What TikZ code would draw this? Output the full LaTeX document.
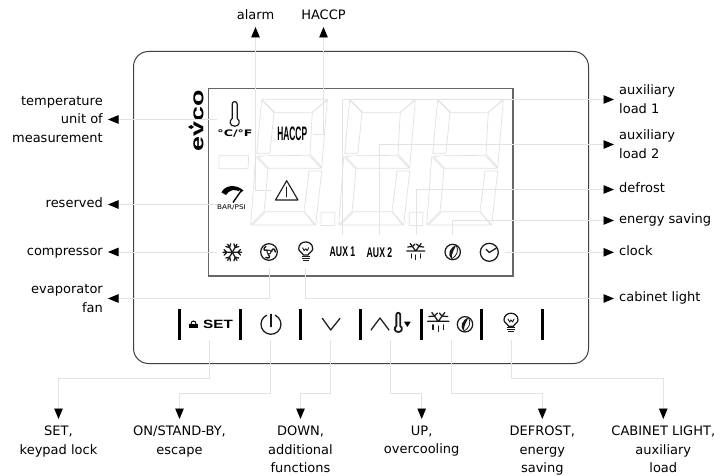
\documentclass[tikz,border=0pt]{standalone}
\usepackage{fontspec}
\usepackage{xcolor}
\setmainfont{DejaVu Sans}
\newfontfamily\lcdfont{Liberation Sans}
\usetikzlibrary{arrows, arrows.meta}
\usetikzlibrary{positioning}
\usetikzlibrary{calc}
\definecolor{leadergray}{HTML}{E3E3E3}
\definecolor{seggray}{HTML}{E1E1E1}
\tikzset{
	leader/.style={draw=leadergray, line width=0.9pt, -{Triangle[black, length=10.5pt, width=8.5pt]}},
	seg/.style={draw=seggray, line width=0.7pt, line join=round},
	iconline/.style={draw=black!90, line width=1.25pt, line cap=round, line join=round},
	bar/.style={draw=black, line width=3pt},
	lbl/.style={font=\fontsize{13}{18.7}\selectfont, inner sep=0pt},
	lblone/.style={lbl, text height=9.5pt, text depth=3pt},
	lblleft/.style={lblone, anchor=east, inner xsep=5pt},
	lblright/.style={lblone, anchor=west, inner xsep=5pt},
	lbllefttwo/.style={lbl, anchor=east, inner xsep=5pt, align=right},
	lblrighttwo/.style={lbl, anchor=west, inner xsep=5pt, align=left},
	lbldown/.style={lbl, anchor=north, inner ysep=6.5pt, align=center},
	lblup/.style={lblone, anchor=south, inner ysep=4pt},
	lcdtext/.style={font=\lcdfont\bfseries, inner sep=0pt}
}
\begin{document}
\begin{tikzpicture}[x=1pt, y=-1pt]
	\newcommand\lcdDigit[1]{
		\begin{scope}[shift={(#1,99.3)}]
			\draw[seg] (0,0) -- (65.6,0) -- (50.6,13.4) -- (13.3,13.4) -- cycle;
			\draw[seg] (65.6,0.8) -- (50.6,13) -- (48.3,54.7) -- (60,68) -- cycle;
			\draw[seg] (0,0.8) -- (12.3,13) -- (8.3,54) -- (-5,54) -- cycle;
			\draw[seg] (-4.4,56.7) -- (47.3,56) -- (59.6,69) -- (6.6,69) -- cycle;
			\draw[seg] (-6,57.4) -- (6.3,70) -- (2.3,112.4) -- (-11,125.7) -- cycle;
			\draw[seg] (47.3,71.7) -- (60,71.7) -- (54,125.7) -- (42.3,112.4) -- cycle;
			\draw[seg] (4,112.4) -- (42.3,112.4) -- (53,125.7) -- (-9.4,125.7) -- cycle;
		\end{scope}
	}
	\newcommand\bulbIcon[2]{
		\begin{scope}[shift={(#1,#2)}]
			\draw[iconline] (-2.5,3.2) .. controls (-3,1) and (-7,0) .. (-7,-3) .. controls (-7,-12) and (7,-12) .. (7,-3) .. controls (7,0) and (3,1) .. (2.5,3.2) -- cycle;
			\draw[iconline, line width=0.9pt] (-3,-4) -- (-1.5,-1) -- (0,-3) -- (1.5,-1) -- (3,-4);
			\draw[iconline, line cap=butt, line width=1.2pt] (-3.8,4.8) -- (3.8,4.8) (-3.8,6.7) -- (3.8,6.7) (-3,8.6) -- (3,8.6);
		\end{scope}
	}
	\newcommand\frostIcon[3]{
		\begin{scope}[shift={(#1,#2)}, scale=#3]
			\draw[iconline] (-9,-1) -- (9,-1) (0,-1) -- (-5.5,-8.5) (0,-1) -- (5.5,-8.5);
			\draw[iconline] (-3.2,-5.5) -- (-0.8,-8) (3.2,-5.5) -- (0.8,-8) (-3.2,-5.5) -- (-8,-5) (3.2,-5.5) -- (8,-5);
			\draw[iconline] (-4.5,2) -- (-4.5,6) (0,3) -- (0,7.5) (4.5,2) -- (4.5,6);
		\end{scope}
	}
	\newcommand\leafIcon[2]{
		\begin{scope}[shift={(#1,#2)}]
			\draw[iconline] (0,0) circle (7.7pt);
			\fill[black!90] (-1,6.8) .. controls (-6,2) and (-3,-4) .. (3.5,-7) .. controls (2,-3) and (-1.5,1) .. (-1,6.8) -- cycle;
			\draw[iconline, line width=0.8pt] (3.5,-7) .. controls (6.5,-1) and (4,4) .. (-1,6.8);
		\end{scope}
	}
	\newcommand\tempIcon[4]{
		\begin{scope}[shift={(#1,#2)}, scale=#3]
			\draw[iconline, line width=#4] (-2.5,-3.2) -- (-2.5,-17.5) .. controls (-2.5,-21) and (2.5,-21) .. (2.5,-17.5) -- (2.5,-3.2) .. controls (6,-1) and (5,4.5) .. (0,4.5) .. controls (-5,4.5) and (-6,-1) .. (-2.5,-3.2) -- cycle;
		\end{scope}
	}
	\useasboundingbox (0,0) rectangle (720,476);
	\draw[draw=black!75, line width=1pt, rounded corners=15pt] (133.5,51.5) rectangle (588.5,363.5);
	\draw[draw=black!60, line width=1.2pt] (208.5,88.5) rectangle (513,276);
	\lcdDigit{261.7}
	\lcdDigit{349.7}
	\lcdDigit{437.7}
	\draw[seg] (321,212.3) -- (335,212.3) -- (334.7,225.5) -- (320.8,225.5) -- cycle;
	\draw[seg] (409.3,212.3) -- (423,212.3) -- (422.7,225.5) -- (409.3,225.5) -- cycle;
	\draw[seg] (219,155.7) -- (248.7,155.7) -- (248,168.7) -- (219,168.7) -- cycle;
	\node[font=\lcdfont\bfseries\fontsize{18.5}{18.5}\selectfont, rotate=90, xscale=1.45, inner sep=0pt] (logoText) at (198.5,120.5) {evco};
	\fill[black] (188,127) -- (191,125) -- (194,127) -- (191,129) -- cycle;
	\tempIcon{234.7}{121.7}{1}{1.2pt}
	\node[lcdtext, font=\fontsize{9}{9}\selectfont\bfseries, xscale=1.4] (unitText) at (235,133.5) {°C/°F};
	\node[lcdtext, font=\lcdfont\bfseries\fontsize{19.5}{19.5}\selectfont, xscale=0.43] (haccpText) at (292.2,134) {HACCP};
	\fill[black] (221.5,192.5) .. controls (224,186) and (235,183) .. (243.5,190.5) -- (241,192.5) .. controls (235,188) and (229,190) .. (226,195) -- cycle;
	\draw[white, line width=2.6pt] (234.5,199.5) -- (240.5,191);
	\draw[black, line width=1.4pt] (233,202.5) -- (241.7,190);
	\node[lcdtext, font=\fontsize{6.5}{6.5}\selectfont, xscale=1.12] (gaugeText) at (231.5,207.5) {BAR/PSI};
	\draw[iconline, line width=1.1pt] (286.7,180.7) -- (298,200) -- (275.5,200) -- cycle;
	\draw[iconline, line width=0.8pt] (286.7,187) -- (286.7,197);
	\begin{scope}[shift={(232.3,252.3)}]
		\foreach \ang in {0,60,...,300}
			\draw[iconline, rotate=\ang] (0,0) -- (9.3,0) (5.5,0) -- (8.2,2.8) (5.5,0) -- (8.2,-2.8);
	\end{scope}
	\begin{scope}[shift={(269,252)}]
		\draw[iconline] (0,0) circle (8.3pt);
		\draw[iconline, line width=0.9pt] (0,0) circle (2pt);
		\foreach \ang in {0,120,240}
			\draw[iconline, rotate=\ang, line width=1.4pt] (2.5,-0.5) .. controls (3.5,-4.5) and (6,-3.5) .. (6.3,0);
	\end{scope}
	\bulbIcon{305.7}{251.7}
	\node[lcdtext, font=\lcdfont\bfseries\fontsize{14}{14}\selectfont, xscale=0.62] (auxOneText) at (342.5,252.2) {AUX 1};
	\node[lcdtext, font=\lcdfont\bfseries\fontsize{14}{14}\selectfont, xscale=0.62] (auxTwoText) at (379.5,252.2) {AUX 2};
	\frostIcon{415.7}{252}{1}
	\leafIcon{452.7}{252}
	\begin{scope}[shift={(489.3,252.3)}]
		\draw[iconline] (0,0) circle (9pt);
		\draw[iconline] (-3.3,-3) -- (0,0.2) -- (7,-4.2);
	\end{scope}
	\draw[bar] (179.3,309) -- (179.3,339.7);
	\draw[bar] (240.3,309) -- (240.3,339.7);
	\draw[bar] (300.3,309) -- (300.3,339.7);
	\draw[bar] (360.3,309) -- (360.3,339.7);
	\draw[bar] (421.3,309) -- (421.3,339.7);
	\draw[bar] (481.3,309) -- (481.3,339.7);
	\draw[bar] (542.3,309) -- (542.3,339.7);
	\fill[black] (189,324) rectangle (198.3,328.3);
	\draw[black, line width=1pt] (191,324) .. controls (191,320) and (196,320) .. (196,324);
	\node[lcdtext, font=\lcdfont\bfseries\fontsize{12}{12}\selectfont, xscale=1.27] (setText) at (218,324.4) {SET};
	\draw[iconline] (275.2,315.2) arc[start angle=65, end angle=-245, radius=10pt];
	\draw[iconline] (271,314.3) -- (271,326.7);
	\draw[iconline] (322.3,318.3) -- (330.7,330) -- (340,318.3);
	\draw[iconline] (371,330) -- (380,318) -- (389,330);
	\tempIcon{398.3}{328.5}{0.78}{1.8pt}
	\fill[black] (404,321.7) -- (410.7,321.7) -- (407.3,327) -- cycle;
	\frostIcon{438.3}{322.5}{1.18}
	\leafIcon{465}{324.3}
	\bulbIcon{511}{323}
	\node[lbllefttwo] (lblTemp) at (108,119.5) {temperature\\unit of\\measurement};
	\node[lblleft] (lblReserved) at (108,204.5) {reserved};
	\node[lblleft] (lblCompressor) at (108,252) {compressor};
	\node[lbllefttwo] (lblFan) at (108,298.5) {evaporator\\fan};
	\node[lblup] (lblAlarm) at (255.5,27) {alarm};
	\node[lblup] (lblHaccp) at (323.5,27) {HACCP};
	\node[lblrighttwo] (lblAuxOne) at (614,99.5) {auxiliary\\load 1};
	\node[lblrighttwo] (lblAuxTwo) at (614,144.5) {auxiliary\\load 2};
	\node[lblright] (lblDefrost) at (614,189.5) {defrost};
	\node[lblright] (lblEnergy) at (614,220.5) {energy saving};
	\node[lblright] (lblClock) at (614,252.3) {clock};
	\node[lblright] (lblCabinet) at (614,298.5) {cabinet light};
	\node[lbldown] (lblSet) at (58.5,419) {SET,\\keypad lock};
	\node[lbldown] (lblOn) at (179.5,419) {ON/STAND-BY,\\escape};
	\node[lbldown] (lblDown) at (300.5,419) {DOWN,\\additional\\functions};
	\node[lbldown] (lblUp) at (421.7,419) {UP,\\overcooling};
	\node[lbldown] (lblDefrostKey) at (542.3,419) {DEFROST,\\energy\\saving};
	\node[lbldown] (lblCabinetKey) at (663.3,419) {CABINET LIGHT,\\auxiliary\\load};
	\coordinate (fromTemp) at (217,119.5);
	\coordinate (fromReserved) at (217,204.5);
	\coordinate (fromCompressor) at (217,252);
	\coordinate (fromFan) at (269.5,268);
	\coordinate (fromAlarm) at (271,190);
	\coordinate (fromHaccp) at (313,134);
	\coordinate (fromAuxOne) at (342.5,235);
	\coordinate (fromAuxTwo) at (379.5,235);
	\coordinate (fromDefrost) at (416,235);
	\coordinate (fromEnergy) at (452.3,235);
	\coordinate (fromClock) at (505,252.3);
	\coordinate (fromCabinet) at (305,268);
	\draw[leader] (fromTemp) -- (lblTemp.east);
	\draw[leader] (fromReserved) -- (lblReserved.east);
	\draw[leader] (fromCompressor) -- (lblCompressor.east);
	\draw[leader] (fromFan) |- (lblFan.east);
	\draw[leader] (fromAlarm) -| (lblAlarm.south);
	\draw[leader] (fromHaccp) -| (lblHaccp.south);
	\draw[leader] (fromAuxOne) |- (lblAuxOne.west);
	\draw[leader] (fromAuxTwo) |- (lblAuxTwo.west);
	\draw[leader] (fromDefrost) |- (lblDefrost.west);
	\draw[leader] (fromEnergy) |- (lblEnergy.west);
	\draw[leader] (fromClock) -- (lblClock.west);
	\draw[leader] (fromCabinet) |- (lblCabinet.west);
	\coordinate (fromSet) at (209.5,340);
	\coordinate (fromOn) at (270.5,340);
	\coordinate (fromDown) at (330.5,340);
	\coordinate (fromUp) at (390.7,340);
	\coordinate (fromDefrostKey) at (451.3,340);
	\coordinate (fromCabinetKey) at (511.7,340);
	\draw[leader] (fromSet) |- (58.5,378.5) -- (lblSet.north);
	\draw[leader] (fromOn) |- (179.5,393.3) -- (lblOn.north);
	\draw[leader] (fromDown) |- (300.5,393.3) -- (lblDown.north);
	\draw[leader] (fromUp) |- (421.7,393.3) -- (lblUp.north);
	\draw[leader] (fromDefrostKey) |- (542.3,393.3) -- (lblDefrostKey.north);
	\draw[leader] (fromCabinetKey) |- (663.3,378.5) -- (lblCabinetKey.north);
\end{tikzpicture}
\end{document}
